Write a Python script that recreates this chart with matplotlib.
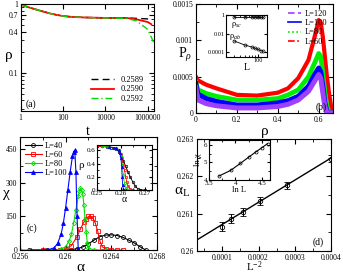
import numpy as np
import matplotlib
matplotlib.use("Agg")
import matplotlib.pyplot as plt
from matplotlib.lines import Line2D
from matplotlib.ticker import MultipleLocator, LogLocator, NullFormatter, FixedLocator

plt.rcParams['font.family'] = ['Liberation Serif', 'DejaVu Serif']
plt.rcParams['mathtext.fontset'] = 'custom'
plt.rcParams['mathtext.rm'] = 'Liberation Serif'
plt.rcParams['mathtext.it'] = 'Liberation Serif:italic'
plt.rcParams['font.size'] = 6
plt.rcParams['xtick.labelsize'] = 5.5
plt.rcParams['ytick.labelsize'] = 5.5
plt.rcParams['xtick.direction'] = 'in'
plt.rcParams['ytick.direction'] = 'in'
plt.rcParams['xtick.top'] = True
plt.rcParams['ytick.right'] = True
plt.rcParams['xtick.major.size'] = 3.5
plt.rcParams['ytick.major.size'] = 3.5
plt.rcParams['xtick.minor.size'] = 2
plt.rcParams['ytick.minor.size'] = 2
plt.rcParams['axes.linewidth'] = 0.8
plt.rcParams['xtick.major.pad'] = 2
plt.rcParams['ytick.major.pad'] = 2

# (a) rho(t) at three alphas
t_a = [1, 3, 10, 30, 100, 300, 1000, 1e4, 1e5, 3e5, 1e6, 1.5e6, 2e6]
rho_2589 = [0.98, 0.88, 0.79, 0.72, 0.67, 0.65, 0.64, 0.63, 0.63, 0.62, 0.61, 0.60, None]
rho_2590 = [0.98, 0.88, 0.79, 0.72, 0.67, 0.65, 0.64, 0.63, 0.63, 0.60, 0.55, 0.51, None]
rho_2592 = [0.98, 0.88, 0.79, 0.72, 0.67, 0.65, 0.64, 0.63, 0.62, 0.57, 0.43, 0.33, 0.27]

# (b) P(rho)
rho_b = [0.0, 0.01, 0.05, 0.1, 0.2, 0.3, 0.4, 0.45, 0.5, 0.55, 0.58, 0.6, 0.61, 0.62, 0.63, 0.64, 0.65, 0.66, 0.67]
p_L60 = [0.00050, 0.00045, 0.00039, 0.00034, 0.00025, 0.00024, 0.00028, 0.00034, 0.00048, 0.00073, 0.00105, 0.00128, 0.00124, 0.00105, 0.00078, 0.00050, 0.00028, 0.00010, 0.0]
p_L80 = [0.00042, 0.00032, 0.00027, 0.00023, 0.00018, 0.00018, 0.00020, 0.00025, 0.00032, 0.00050, 0.00069, 0.00082, 0.00078, 0.00055, 0.00028, 0.00010, 0.0, 0.0, 0.0]
p_L100 = [0.00040, 0.00026, 0.00020, 0.00016, 0.00011, 0.00011, 0.00014, 0.00017, 0.00023, 0.00037, 0.00053, 0.00062, 0.00057, 0.00037, 0.00014, 0.00002, 0.0, 0.0, 0.0]
p_L120 = [0.00035, 0.00018, 0.00013, 0.00010, 0.00007, 0.00007, 0.00009, 0.00012, 0.00018, 0.00030, 0.00044, 0.00053, 0.00048, 0.00028, 0.00009, 0.0, 0.0, 0.0, 0.0]

# (b) inset
L_inset = [40, 60, 80, 90, 100, 110, 120]
rho_sc = [0.65, 0.65, 0.65, 0.65, 0.65, 0.65, 0.65]
rho_ab = [0.0017, 0.0006, 0.00035, 0.00025, 0.0002, 0.00015, 0.00012]

# (c) chi(alpha)
a_L40 = [0.2568, 0.2584, 0.2600, 0.2605, 0.2610, 0.2615, 0.2620, 0.2625, 0.2630, 0.2635, 0.2640, 0.2645, 0.2650, 0.2655, 0.2660, 0.2665, 0.2670]
chi_L40 = [0, 0, 0, 2, 6, 14, 28, 45, 60, 67, 68, 65, 57, 45, 32, 15, 0]
a_L60 = [0.2580, 0.2595, 0.2600, 0.2605, 0.2610, 0.2613, 0.2616, 0.2618, 0.2620, 0.2622, 0.2624, 0.2626, 0.2628, 0.2630, 0.2632, 0.2635, 0.2640, 0.2645, 0.2650]
chi_L60 = [0, 0, 5, 20, 60, 95, 125, 140, 150, 150, 142, 120, 85, 40, 15, 5, 1, 0, 0]
a_L80 = [0.2560, 0.2590, 0.2596, 0.2600, 0.2603, 0.2605, 0.2607, 0.2609, 0.2611, 0.2612, 0.2613, 0.2614, 0.2615, 0.2616, 0.2617, 0.2618, 0.2619, 0.2620, 0.2625, 0.2635]
chi_L80 = [0, 0, 5, 15, 40, 70, 120, 180, 240, 265, 277, 270, 250, 200, 140, 80, 30, 8, 1, 0]
a_L100 = [0.2570, 0.2580, 0.2585, 0.2590, 0.2593, 0.2596, 0.2598, 0.2600, 0.2602, 0.2604, 0.2606, 0.2607, 0.2608, 0.2609, 0.2610, 0.2611]
chi_L100 = [0, 0, 2, 10, 30, 70, 120, 190, 270, 350, 420, 440, 445, 350, 150, 5]

# (c) inset rho(alpha)
ai_L40 = [0.250, 0.252, 0.254, 0.256, 0.258, 0.259, 0.260, 0.261, 0.262, 0.263, 0.264, 0.265, 0.266, 0.267, 0.268, 0.270]
ri_L40 = [0.66, 0.66, 0.65, 0.64, 0.62, 0.58, 0.52, 0.44, 0.36, 0.27, 0.19, 0.12, 0.06, 0.02, 0.005, 0.0]
ai_L60 = [0.250, 0.255, 0.258, 0.259, 0.2600, 0.2605, 0.2610, 0.2615, 0.2620, 0.2625, 0.2630, 0.264, 0.265]
ri_L60 = [0.66, 0.65, 0.63, 0.61, 0.55, 0.48, 0.38, 0.30, 0.20, 0.12, 0.06, 0.01, 0.0]
ai_L80 = [0.252, 0.255, 0.258, 0.259, 0.2600, 0.2605, 0.2610, 0.2615, 0.2620, 0.263]
ri_L80 = [0.66, 0.65, 0.63, 0.60, 0.52, 0.38, 0.22, 0.10, 0.03, 0.0]
ai_L100 = [0.255, 0.257, 0.258, 0.259, 0.2595, 0.2600, 0.2603, 0.2605, 0.2607, 0.2610, 0.262]
ri_L100 = [0.65, 0.64, 0.63, 0.60, 0.56, 0.48, 0.35, 0.20, 0.08, 0.01, 0.0]

# (d) alpha_L vs L^-2
invL2 = [0.0001, 0.000123, 0.000156, 0.000204, 0.000278, 0.0004]
alpha_L = [0.26065, 0.26087, 0.26105, 0.26134, 0.26176, 0.26247]
alpha_err = [0.00012, 0.00012, 0.0001, 0.0001, 0.00009, 0.00009]
fit_x = [0.00003, 0.0004]
fit_y = [0.26030, 0.26249]

# (d) inset ln chi vs ln L
lnL = [3.689, 3.912, 4.094, 4.248, 4.382, 4.500, 4.605]
lnchi = [4.22, 4.55, 4.95, 5.30, 5.60, 5.85, 6.08]

fig = plt.figure(figsize=(3.43, 2.73), dpi=100)

# ---- (a)
ax = fig.add_axes([0.06, 0.593, 0.389, 0.392])
ax.loglog(t_a, rho_2589, color='black', ls=(0, (5, 3)), lw=1.0, label='0.2589')
ax.loglog(t_a, rho_2590, color='red', ls='-', lw=1.3, label='0.2590')
ax.loglog(t_a, rho_2592, color='#00dd00', ls=(0, (5, 2, 1, 2)), lw=1.0, label='0.2592')
ax.set_xlim(1, 2e6)
ax.set_ylim(0.028, 1)
ax.xaxis.set_major_locator(FixedLocator([1, 100, 1e4, 1e6]))
ax.set_xticklabels(['1', '100', '10000', '1000000'])
ax.xaxis.set_minor_locator(LogLocator(base=10, subs=np.arange(1, 10)))
ax.xaxis.set_minor_formatter(NullFormatter())
ax.yaxis.set_major_locator(FixedLocator([0.1, 0.4, 0.7, 1]))
ax.set_yticklabels(['0.1', '0.4', '0.7', '1'])
ax.yaxis.set_minor_locator(LogLocator(base=10, subs=np.arange(1, 10)))
ax.yaxis.set_minor_formatter(NullFormatter())
ax.set_xlabel('t', fontsize=10)
ax.xaxis.set_label_coords(0.5, -0.13)
ax.set_ylabel('ρ', fontsize=11, rotation=0, ha='center', va='center')
ax.yaxis.set_label_coords(-0.09, 0.52)
ax.legend(loc='lower right', frameon=False, fontsize=6, handlelength=2.8,
          labelspacing=0.2, borderaxespad=0.3, bbox_to_anchor=(0.97, 0.02))
ax.text(0.04, 0.04, '(a)', transform=ax.transAxes, fontsize=7)

# ---- (b)
ax = fig.add_axes([0.571, 0.586, 0.400, 0.399])
ax.plot(rho_b, p_L60, color='red', lw=3.0, solid_joinstyle='round')
ax.plot(rho_b, p_L80, color='#00ee00', lw=3.4, solid_joinstyle='round')
ax.plot(rho_b, p_L100, color='blue', lw=3.6, solid_joinstyle='round')
ax.plot(rho_b, p_L120, color='#a040ff', lw=3.6, solid_joinstyle='round')
ax.set_xlim(0, 0.67)
ax.set_ylim(0, 0.0015)
ax.set_xticks([0, 0.2, 0.4, 0.6])
ax.set_xticklabels(['0', '0.2', '0.4', '0.6'])
ax.xaxis.set_minor_locator(MultipleLocator(0.1))
ax.set_yticks([0, 0.0005, 0.001, 0.0015])
ax.set_yticklabels(['0', '0.0005', '0.001', '0.0015'])
ax.yaxis.set_minor_locator(MultipleLocator(0.00025))
ax.set_xlabel('ρ', fontsize=11)
ax.xaxis.set_label_coords(0.5, -0.11)
ax.set_ylabel('P$_\\rho$', fontsize=10, rotation=0, ha='center', va='center')
ax.yaxis.set_label_coords(-0.075, 0.53)
handles = [Line2D([], [], color='#a040ff', ls=(0, (4, 2)), lw=1.2),
           Line2D([], [], color='blue', ls='-', lw=1.2),
           Line2D([], [], color='#00ee00', ls=(0, (1, 1.5)), lw=1.2),
           Line2D([], [], color='red', ls=(0, (4, 1.5, 1, 1.5)), lw=1.2)]
ax.legend(handles, ['L=120', 'L=100', 'L=80', 'L=60'], loc='upper right', frameon=False,
          fontsize=6, handlelength=1.6, labelspacing=0.15, borderaxespad=0.3,
          handletextpad=0.4)
ax.text(0.87, 0.03, '(b)', transform=ax.transAxes, fontsize=7)

ins = fig.add_axes([0.659, 0.791, 0.120, 0.154])
ins.loglog(L_inset, rho_sc, color='black', lw=0.6, marker='o', ms=2.2, mfc='none', mew=0.5)
ins.loglog(L_inset, rho_ab, color='black', lw=0.6, marker='o', ms=2.2, mfc='none', mew=0.5)
ins.set_xlim(30, 140)
ins.set_ylim(3e-5, 1)
ins.yaxis.set_major_locator(FixedLocator([1e-4, 1e-2, 1]))
ins.set_yticklabels(['0.0001', '0.01', '1'], fontsize=4.5)
ins.yaxis.set_minor_locator(LogLocator(base=10, subs=np.arange(1, 10)))
ins.yaxis.set_minor_formatter(NullFormatter())
ins.xaxis.set_major_locator(FixedLocator([100]))
ins.set_xticklabels(['100'], fontsize=4.5)
ins.xaxis.set_minor_locator(LogLocator(base=10, subs=np.arange(1, 10)))
ins.xaxis.set_minor_formatter(NullFormatter())
ins.tick_params(length=2, pad=1)
ins.tick_params(which='minor', length=1.2)
ins.set_xlabel('L', fontsize=7, labelpad=0)
ins.text(0.12, 0.74, 'ρ$_{sc}$', transform=ins.transAxes, fontsize=6)
ins.text(0.08, 0.45, 'ρ$_{ab}$', transform=ins.transAxes, fontsize=6)

# ---- (c)
ax = fig.add_axes([0.058, 0.084, 0.400, 0.414])
ax.plot(a_L40, chi_L40, color='black', lw=0.8, marker='o', ms=2.8, mfc='none', mew=0.6, label='L=40')
ax.plot(a_L60, chi_L60, color='red', lw=0.8, marker='s', ms=2.6, mfc='none', mew=0.6, label='L=60')
ax.plot(a_L80, chi_L80, color='#00dd00', lw=0.8, marker='D', ms=2.2, mfc='none', mew=0.6, label='L=80')
ax.plot(a_L100, chi_L100, color='blue', lw=0.8, marker='^', ms=2.8, mew=0.6, label='L=100')
ax.set_xlim(0.256, 0.268)
ax.set_ylim(0, 505)
ax.set_xticks([0.256, 0.26, 0.264, 0.268])
ax.set_xticklabels(['0.256', '0.26', '0.264', '0.268'])
ax.xaxis.set_minor_locator(MultipleLocator(0.002))
ax.set_yticks([0, 150, 300, 450])
ax.set_yticklabels(['0', '150', '300', '450'])
ax.yaxis.set_minor_locator(MultipleLocator(75))
ax.set_xlabel('α', fontsize=11)
ax.xaxis.set_label_coords(0.44, -0.1)
ax.set_ylabel('χ', fontsize=11, rotation=0, ha='center', va='center')
ax.yaxis.set_label_coords(-0.1, 0.5)
ax.legend(loc='upper left', frameon=False, fontsize=6, handlelength=2.0,
          labelspacing=0.1, borderaxespad=0.2, handletextpad=0.4)
ax.text(0.05, 0.17, '(c)', transform=ax.transAxes, fontsize=7)

ins = fig.add_axes([0.283, 0.304, 0.160, 0.165])
ins.plot(ai_L40, ri_L40, color='black', lw=0.6, marker='o', ms=1.8, mfc='none', mew=0.5)
ins.plot(ai_L60, ri_L60, color='red', lw=0.6, marker='s', ms=1.8, mfc='none', mew=0.5)
ins.plot(ai_L80, ri_L80, color='#00dd00', lw=0.6, marker='D', ms=1.5, mfc='none', mew=0.5)
ins.plot(ai_L100, ri_L100, color='blue', lw=0.6, marker='^', ms=1.8, mew=0.5)
ins.set_xlim(0.25, 0.273)
ins.set_ylim(0, 0.68)
ins.set_xticks([0.25, 0.26, 0.27])
ins.set_xticklabels(['0.25', '0.26', '0.27'], fontsize=5)
ins.xaxis.set_minor_locator(MultipleLocator(0.005))
ins.set_yticks([0, 0.2, 0.4, 0.6])
ins.set_yticklabels(['0', '0.2', '0.4', '0.6'], fontsize=5)
ins.yaxis.set_minor_locator(MultipleLocator(0.1))
ins.tick_params(length=2, pad=1)
ins.tick_params(which='minor', length=1.2)
ins.set_xlabel('α', fontsize=7, labelpad=-1)
ins.set_ylabel('ρ', fontsize=8, rotation=0, ha='center', va='center')
ins.yaxis.set_label_coords(-0.3, 0.55)

# ---- (d)
ax = fig.add_axes([0.574, 0.08, 0.391, 0.411])
ax.plot(fit_x, fit_y, color='black', lw=1.0)
ax.errorbar(invL2, alpha_L, yerr=alpha_err, fmt='o', color='black', ms=3.2, mfc='none',
            mew=0.6, elinewidth=0.7, capsize=2.5, capthick=0.7)
ax.set_xlim(0.00003, 0.0004)
ax.set_ylim(0.26, 0.263)
ax.set_xticks([0.0001, 0.0002, 0.0003, 0.0004])
ax.set_xticklabels(['0.0001', '0.0002', '0.0003', '0.0004'])
ax.xaxis.set_minor_locator(MultipleLocator(0.00005))
ax.set_yticks([0.26, 0.261, 0.262, 0.263])
ax.set_yticklabels(['0.26', '0.261', '0.262', '0.263'])
ax.yaxis.set_minor_locator(MultipleLocator(0.0005))
ax.set_xlabel('L$^{-2}$', fontsize=8)
ax.xaxis.set_label_coords(0.43, -0.07)
ax.set_ylabel('α$_{\\rm L}$', fontsize=11, rotation=0, ha='center', va='center')
ax.yaxis.set_label_coords(-0.11, 0.52)
ax.text(0.86, 0.06, '(d)', transform=ax.transAxes, fontsize=7)

ins = fig.add_axes([0.609, 0.341, 0.178, 0.147])
ins.plot(lnL, lnchi, color='black', lw=0.8, marker='o', ms=2.2, mfc='none', mew=0.5)
ins.set_xlim(3.5, 4.65)
ins.set_ylim(4, 6.3)
ins.set_xticks([3.5, 4, 4.5])
ins.set_xticklabels(['3.5', '4', '4.5'], fontsize=5)
ins.xaxis.set_minor_locator(MultipleLocator(0.25))
ins.set_yticks([4, 5, 6])
ins.set_yticklabels(['4', '5', '6'], fontsize=5)
ins.yaxis.set_minor_locator(MultipleLocator(0.5))
ins.tick_params(length=2, pad=1)
ins.tick_params(which='minor', length=1.2)
ins.set_xlabel('ln L', fontsize=6, labelpad=0)
ins.set_ylabel('ln χ', fontsize=6, labelpad=1)

fig.savefig('out.png', dpi=100)
